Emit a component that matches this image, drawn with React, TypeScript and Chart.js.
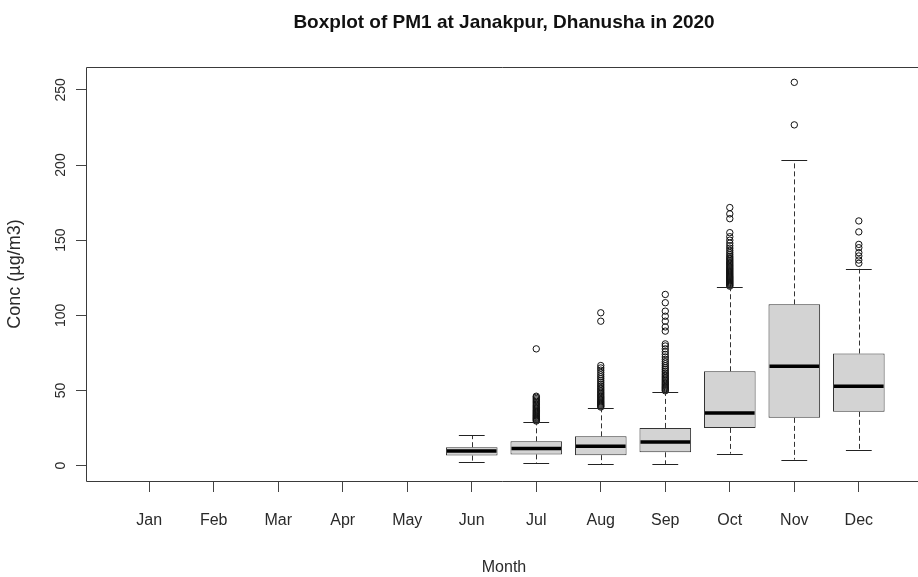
import { useEffect, useRef } from 'react';
import { Chart, registerables } from 'chart.js';

Chart.register(...registerables);

const MONTHS = ['Jan', 'Feb', 'Mar', 'Apr', 'May', 'Jun', 'Jul', 'Aug', 'Sep', 'Oct', 'Nov', 'Dec'];
const Y_TICKS = [0, 50, 100, 150, 200, 250];

// Months (1-based) that have PM1 measurements
const BOX_MONTHS = [6, 7, 8, 9, 10, 11, 12];
const WHISKER_LOW = [2.4, 1.8, 1.1, 1.1, 8.0, 4.0, 10.7];
const Q1 = [6.7, 7.5, 7.0, 8.9, 25.1, 31.8, 35.8];
const MEDIAN = [9.8, 11.5, 12.9, 15.8, 35.1, 66.2, 52.8];
const Q3 = [12.3, 16.2, 19.5, 25.1, 62.8, 107.3, 74.6];
const WHISKER_HIGH = [20.1, 29.1, 38.4, 49.1, 118.8, 203.2, 131.0];

// Outliers per month (beyond 1.5 IQR)
const OUT_JUN: number[] = [];
const OUT_JUL = [
  29.7, 30.3, 30.9, 31.5, 32.1, 32.8, 33.4, 34.1, 34.8, 35.5, 36.2, 36.9, 37.7, 38.5, 39.3, 40.1,
  41.0, 41.9, 42.8, 43.7, 44.6, 45.5, 46.2, 77.7,
];
const OUT_AUG = [
  39.0, 39.6, 40.2, 40.9, 41.6, 42.3, 43.0, 43.8, 44.6, 45.4, 46.2, 47.1, 48.0, 48.9, 49.9, 50.9,
  51.9, 53.0, 54.1, 55.3, 56.5, 57.8, 59.1, 60.5, 62.0, 63.5, 65.0, 66.6, 96.1, 101.7,
];
const OUT_SEP = [
  49.8, 50.5, 51.2, 51.9, 52.6, 53.4, 54.2, 55.0, 55.8, 56.7, 57.6, 58.5, 59.5, 60.5, 61.6, 62.7,
  63.9, 65.1, 66.4, 67.8, 69.2, 70.7, 72.3, 74.0, 75.8, 77.7, 79.6, 81.0, 89.5, 92.3, 96.1, 99.4,
  102.8, 108.4, 113.9,
];
const OUT_OCT = [
  119.4, 120.0, 120.6, 121.2, 121.8, 122.4, 123.0, 123.6, 124.2, 124.8, 125.4, 126.0, 126.7, 127.4,
  128.1, 128.8, 129.5, 130.2, 130.9, 131.6, 132.4, 133.2, 134.0, 134.8, 135.6, 136.5, 137.4, 138.3,
  139.3, 140.5, 141.8, 143.2, 144.7, 146.3, 148.0, 150.0, 152.3, 155.0, 164.3, 167.5, 171.7,
];
const OUT_NOV = [226.7, 255.0];
const OUT_DEC = [134.6, 136.8, 139.5, 141.7, 145.0, 147.2, 155.5, 162.8];
const OUTLIERS = [OUT_JUN, OUT_JUL, OUT_AUG, OUT_SEP, OUT_OCT, OUT_NOV, OUT_DEC];

const TITLE = 'Boxplot of PM1 at Janakpur, Dhanusha in 2020';
const X_TITLE = 'Month';
const Y_TITLE = 'Conc (\u00b5g/m3)';

const FONT = "'Liberation Sans', Arial, Helvetica, sans-serif";
const INK = '#2a2a2a';

const boxplotExtras = {
  id: 'boxplotExtras',
  beforeDraw(chart: any) {
    const { ctx, width, height } = chart;
    ctx.save();
    ctx.fillStyle = '#ffffff';
    ctx.fillRect(0, 0, width, height);
    ctx.restore();
  },
  afterDatasetsDraw(chart: any) {
    const { ctx } = chart;
    const yScale = chart.scales.y;
    const meta = chart.getDatasetMeta(0);
    ctx.save();
    meta.data.forEach((bar: any, i: number) => {
      const { x, width } = bar.getProps(['x', 'width'], true);
      const yQ1 = yScale.getPixelForValue(Q1[i]);
      const yQ3 = yScale.getPixelForValue(Q3[i]);
      const yLo = yScale.getPixelForValue(WHISKER_LOW[i]);
      const yHi = yScale.getPixelForValue(WHISKER_HIGH[i]);
      const yMed = yScale.getPixelForValue(MEDIAN[i]);
      const cx = Math.round(x) + 0.5;

      // dashed whiskers
      ctx.strokeStyle = '#333';
      ctx.lineWidth = 1;
      ctx.setLineDash([5, 3]);
      ctx.beginPath();
      ctx.moveTo(cx, yQ3);
      ctx.lineTo(cx, yHi);
      ctx.moveTo(cx, yQ1);
      ctx.lineTo(cx, yLo);
      ctx.stroke();
      ctx.setLineDash([]);

      // staples
      const capHalf = width / 4;
      ctx.strokeStyle = '#222';
      ctx.beginPath();
      ctx.moveTo(x - capHalf, Math.round(yHi) + 0.5);
      ctx.lineTo(x + capHalf, Math.round(yHi) + 0.5);
      ctx.moveTo(x - capHalf, Math.round(yLo) + 0.5);
      ctx.lineTo(x + capHalf, Math.round(yLo) + 0.5);
      ctx.stroke();

      // median
      ctx.strokeStyle = '#000';
      ctx.lineWidth = 3.5;
      ctx.beginPath();
      ctx.moveTo(x - width / 2 + 1, yMed);
      ctx.lineTo(x + width / 2 - 1, yMed);
      ctx.stroke();
    });
    ctx.restore();
  },
  afterDraw(chart: any) {
    const { ctx, chartArea } = chart;
    const xScale = chart.scales.x;
    const yScale = chart.scales.y;
    ctx.save();

    // plot frame (the right edge lies beyond the canvas)
    ctx.strokeStyle = '#3a3a3a';
    ctx.lineWidth = 1;
    ctx.beginPath();
    ctx.moveTo(chart.width, chartArea.top + 0.5);
    ctx.lineTo(chartArea.left + 0.5, chartArea.top + 0.5);
    ctx.lineTo(chartArea.left + 0.5, chartArea.bottom + 0.5);
    ctx.lineTo(chart.width, chartArea.bottom + 0.5);
    ctx.stroke();

    const midX = xScale.getPixelForValue((1 + MONTHS.length) / 2);

    // title
    ctx.fillStyle = '#111';
    ctx.font = `bold 19px ${FONT}`;
    ctx.textAlign = 'center';
    ctx.textBaseline = 'alphabetic';
    ctx.fillText(TITLE, midX, 28);

    // month labels
    ctx.fillStyle = INK;
    ctx.font = `16px ${FONT}`;
    MONTHS.forEach((m, i) => {
      ctx.fillText(m, xScale.getPixelForValue(i + 1), chartArea.bottom + 44);
    });
    ctx.fillText(X_TITLE, midX, chartArea.bottom + 91);

    // concentration labels, rotated
    ctx.font = `14px ${FONT}`;
    Y_TICKS.forEach((v) => {
      ctx.save();
      ctx.translate(chartArea.left - 21, yScale.getPixelForValue(v));
      ctx.rotate(-Math.PI / 2);
      ctx.fillText(String(v), 0, 0);
      ctx.restore();
    });
    ctx.font = `18px ${FONT}`;
    ctx.save();
    ctx.translate(20, (chartArea.top + chartArea.bottom) / 2);
    ctx.rotate(-Math.PI / 2);
    ctx.fillText(Y_TITLE, 0, 0);
    ctx.restore();

    ctx.restore();
  },
};

export default function App() {
  const canvasRef = useRef<HTMLCanvasElement | null>(null);

  useEffect(() => {
    const canvas = canvasRef.current;
    if (!canvas) return;

    const boxData = BOX_MONTHS.map((m, i) => ({ x: m, y: [Q1[i], Q3[i]] }));
    const outlierData = BOX_MONTHS.flatMap((m, i) => OUTLIERS[i].map((v) => ({ x: m, y: v })));

    const chart = new Chart(canvas, {
      type: 'bar',
      data: {
        datasets: [
          {
            type: 'bar',
            label: 'IQR',
            data: boxData as any,
            backgroundColor: '#d3d3d3',
            borderColor: '#333',
            borderWidth: 1,
            borderSkipped: false,
            barPercentage: 0.8,
            categoryPercentage: 1,
          },
          {
            type: 'scatter',
            label: 'Outliers',
            data: outlierData,
            pointStyle: 'circle',
            pointRadius: 3.2,
            pointBorderWidth: 1,
            pointBorderColor: '#111',
            pointBackgroundColor: 'rgba(0,0,0,0)',
            showLine: false,
          } as any,
        ],
      },
      options: {
        responsive: false,
        animation: false,
        layout: { padding: { left: 76, top: 67, right: 0, bottom: 85 } },
        plugins: {
          legend: { display: false },
          title: { display: false },
          tooltip: { enabled: false },
        },
        scales: {
          x: {
            type: 'linear',
            offset: false,
            min: 0.02,
            max: 12.84,
            afterBuildTicks: (scale: any) => {
              scale.ticks = MONTHS.map((_, i) => ({ value: i + 1 }));
            },
            ticks: { display: false },
            border: { display: false },
            grid: {
              display: true,
              offset: false,
              drawOnChartArea: false,
              drawTicks: true,
              tickLength: 11,
              color: '#444',
              lineWidth: 1,
            },
          },
          y: {
            type: 'linear',
            min: -10.2,
            max: 265.2,
            afterBuildTicks: (scale: any) => {
              scale.ticks = Y_TICKS.map((v) => ({ value: v }));
            },
            ticks: { display: false },
            border: { display: false },
            grid: {
              display: true,
              offset: false,
              drawOnChartArea: false,
              drawTicks: true,
              tickLength: 10,
              color: '#444',
              lineWidth: 1,
            },
          },
        },
      },
      plugins: [boxplotExtras],
    });

    return () => chart.destroy();
  }, []);

  return (
    <div style={{ position: 'fixed', left: 0, top: 0, width: 918, height: 577, background: '#fff' }}>
      <canvas ref={canvasRef} width={918} height={577} />
    </div>
  );
}
